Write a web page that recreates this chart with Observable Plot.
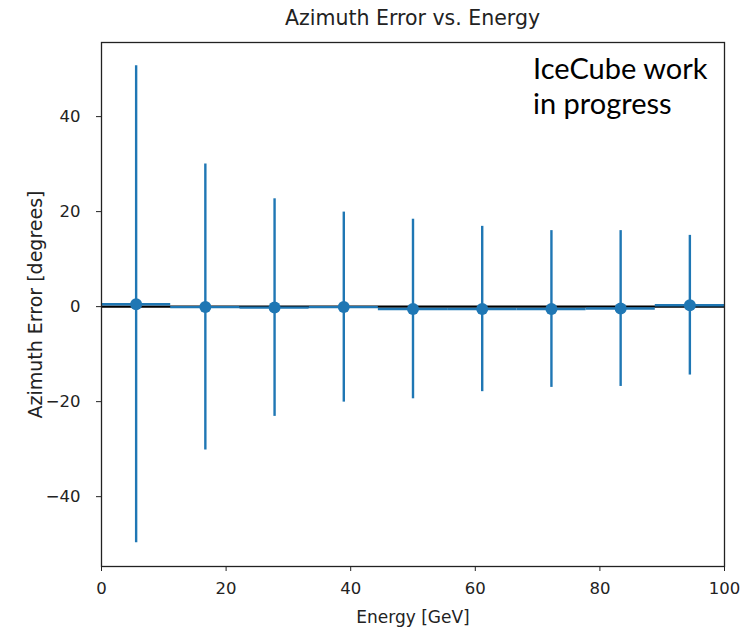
<!DOCTYPE html>
<html>
<head>
<meta charset="utf-8">
<script src="https://cdn.jsdelivr.net/npm/d3@7"></script>
<script src="https://cdn.jsdelivr.net/npm/@observablehq/plot@0.6"></script>
<style>
  body { margin: 0; background: #fff; }
  #wrap { position: relative; width: 740px; height: 627px; }
  #title {
    height: 40px; padding-left: 101px; width: 623px;
    font: 20.5px "DejaVu Sans", sans-serif; color: #222;
    text-align: center; line-height: 36px;
  }
  #note {
    position: absolute; left: 533px; top: 50px;
    font: 29px Lato, "Open Sans", sans-serif; color: #000;
    line-height: 35px;
  }
  svg { display: block; }
</style>
</head>
<body>
<div id="wrap">
  <div id="title">Azimuth Error vs. Energy</div>
  <div id="note">IceCube work<br>in progress</div>
  <div id="chart"></div>
</div>
<script>
// Energy bins (GeV): centres and edges
const energy = [5.56, 16.67, 27.78, 38.89, 50.0, 61.11, 72.22, 83.33, 94.44];
const binLow = [0, 11.11, 22.22, 33.33, 44.44, 55.56, 66.67, 77.78, 88.89];
const binHigh = [11.11, 22.22, 33.33, 44.44, 55.56, 66.67, 77.78, 88.89, 100];
// Mean azimuth error and its spread (degrees) per bin
const meanErr = [0.5, -0.1, -0.2, -0.1, -0.5, -0.5, -0.5, -0.4, 0.3];
const spread = [50.2, 30.1, 22.9, 20.0, 18.9, 17.4, 16.5, 16.4, 14.7];
// Axis ticks
const xTicks = [0, 20, 40, 60, 80, 100];
const yTicks = [-40, -20, 0, 20, 40];

const rows = energy.map((e, i) => ({
  energy: e, lo: binLow[i], hi: binHigh[i],
  mean: meanErr[i], low: meanErr[i] - spread[i], high: meanErr[i] + spread[i]
}));

const blue = "#1f77b4";
const fmt = d3.format("d");

const chart = Plot.plot({
  width: 740,
  height: 587,
  marginTop: 2,
  marginBottom: 61,
  marginLeft: 101,
  marginRight: 16,
  style: { fontFamily: "DejaVu Sans, sans-serif", fontSize: "16.5px", color: "#222", background: "#fff" },
  x: { domain: [0, 100] },
  y: { domain: [-54.7, 55.6] },
  marks: [
    Plot.ruleY([0], { stroke: "black", strokeWidth: 2.2 }),
    Plot.ruleY(rows, { y: "mean", x1: "lo", x2: "hi", stroke: blue, strokeWidth: 2.4 }),
    Plot.ruleX(rows, { x: "energy", y1: "low", y2: "high", stroke: blue, strokeWidth: 2.4 }),
    Plot.dot(rows, { x: "energy", y: "mean", r: 6, fill: blue }),
    Plot.frame({ stroke: "#222", strokeWidth: 1.3 }),
    Plot.axisX(xTicks, { tickSize: 5, tickPadding: 11, tickFormat: fmt, label: null, stroke: "#222", fontSize: 16.5 }),
    Plot.axisY(yTicks, { tickSize: 5, tickPadding: 16, tickFormat: fmt, label: null, stroke: "#222", fontSize: 16.5 }),
    Plot.text(["Energy [GeV]"], { frameAnchor: "bottom", dy: 56, fontSize: 17, fill: "#222" }),
    Plot.text(["Azimuth Error [degrees]"], { frameAnchor: "left", textAnchor: "middle", dx: -66, rotate: -90, fontSize: 19, fill: "#222" })
  ]
});
document.getElementById("chart").appendChild(chart);
</script>
</body>
</html>
